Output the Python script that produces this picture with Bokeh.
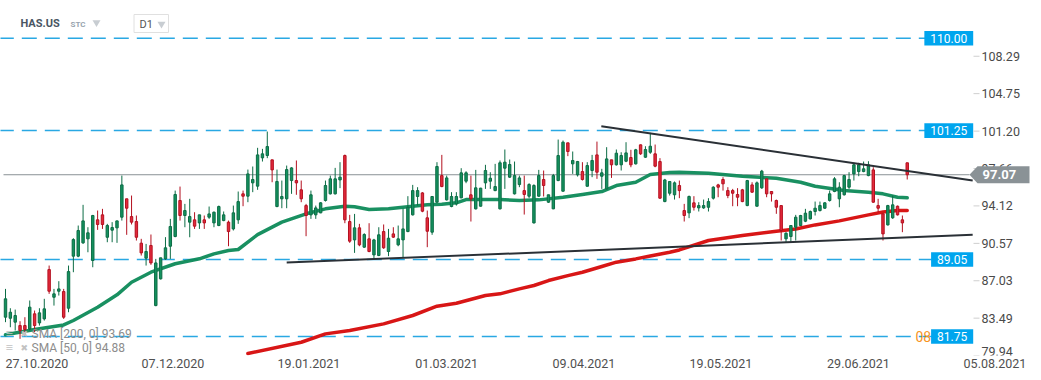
from bokeh.plotting import figure
from bokeh.models import Range1d, FixedTicker
from bokeh.core.properties import value
from bokeh.embed import file_html
from bokeh.resources import INLINE

# ---------------- data ----------------
symbol = "HAS.US"
instrument_type = "STC"
timeframe = "D1"

opens = [83.58, 83.48, 83.11, 82.79, 82.79, 82.47, 83.90, 83.04, 83.42, 88.09,
         85.47, 86.04, 86.01, 84.43, 89.36, 89.36, 90.62, 91.00, 88.95, 92.80,
         93.27, 91.15, 91.82, 92.04, 93.05, 94.79, 93.11, 92.64, 90.59, 89.17,
         90.37, 84.68, 87.21, 89.10, 90.30, 91.22, 94.63, 93.21, 92.58, 92.80,
         92.51, 92.80, 93.05, 92.51, 92.26, 92.73, 92.58, 91.94, 92.80, 95.26,
         95.04, 96.30, 95.99, 98.67, 98.89, 98.48, 94.06, 94.79, 94.79, 96.52,
         96.52, 95.64, 94.15, 93.27, 93.27, 93.46, 94.63, 95.26, 95.26, 96.58,
         98.89, 92.64, 90.90, 92.04, 90.21, 91.00, 89.48, 89.42, 91.69, 89.80,
         91.47, 90.43, 90.90, 91.69, 93.27, 95.01, 95.35, 92.99, 91.63, 94.47,
         96.99, 94.69, 94.06, 94.31, 94.88, 96.46, 95.17, 93.84, 94.09, 96.30,
         96.46, 95.57, 93.84, 97.69, 96.84, 95.26, 96.14, 95.57, 95.04, 92.51,
         95.04, 96.62, 94.47, 93.84, 96.52, 95.51, 100.09, 98.10, 97.06, 97.37,
         95.98, 97.47, 98.95, 96.93, 95.73, 98.48, 98.01, 98.01, 98.35, 98.70,
         98.10, 99.90, 98.73, 99.20, 99.05, 98.32, 94.53, 95.32, 95.17, 96.05,
         93.68, 93.46, 94.41, 93.93, 93.93, 93.99, 94.85, 96.11, 96.62, 95.57,
         95.57, 95.20, 95.64, 94.15, 96.11, 94.09, 95.83, 96.68, 95.48, 94.63,
         94.15, 91.00, 91.22, 92.10, 92.26, 92.67, 92.89, 93.59, 93.68, 93.90,
         94.63, 95.48, 94.79, 95.17, 95.89, 97.15, 97.37, 97.37, 96.99, 97.53,
         94.15, 93.36, 92.32, 92.99, 94.09, 92.80, 98.20]
highs = [86.26, 84.43, 84.30, 83.20, 83.58, 85.16, 84.21, 84.43, 85.32, 88.47,
         86.26, 86.99, 86.26, 88.47, 91.06, 92.26, 94.22, 92.10, 93.27, 93.68,
         93.84, 92.42, 92.58, 92.73, 96.99, 94.79, 95.10, 93.21, 91.00, 90.52,
         91.41, 89.10, 89.20, 91.16, 92.89, 95.57, 95.95, 94.31, 94.79, 93.52,
         93.27, 93.21, 94.06, 93.59, 94.15, 93.59, 92.73, 94.15, 95.48, 95.57,
         97.56, 97.85, 99.62, 99.52, 101.16, 98.48, 97.56, 96.52, 97.94, 97.78,
         98.42, 96.52, 94.31, 95.57, 94.15, 94.47, 96.52, 96.99, 97.72, 98.26,
         98.98, 93.27, 93.36, 92.42, 91.53, 92.48, 91.00, 92.10, 92.36, 91.94,
         92.10, 92.26, 93.84, 95.04, 96.11, 95.89, 95.42, 93.68, 95.01, 98.26,
         98.95, 96.99, 95.42, 95.42, 97.69, 97.40, 96.99, 97.53, 95.83, 98.01,
         97.31, 98.10, 98.42, 99.46, 98.51, 98.32, 96.99, 96.99, 96.27, 96.17,
         97.53, 97.47, 95.17, 97.15, 100.40, 100.31, 100.09, 99.27, 98.38, 98.26,
         98.26, 98.95, 100.21, 97.63, 99.68, 98.48, 99.46, 99.20, 100.15, 99.43,
         99.52, 99.93, 99.77, 101.04, 99.93, 98.64, 96.68, 96.43, 96.43, 96.52,
         94.31, 95.10, 95.04, 94.47, 94.72, 94.85, 95.98, 96.21, 96.84, 95.89,
         95.73, 95.80, 95.73, 96.58, 96.36, 96.43, 97.53, 96.68, 95.48, 94.72,
         94.15, 91.63, 92.26, 93.27, 93.27, 93.84, 93.68, 94.53, 94.53, 94.47,
         95.57, 96.84, 96.36, 97.06, 97.31, 98.20, 98.20, 98.32, 98.35, 97.78,
         94.79, 93.46, 94.22, 95.10, 94.15, 93.21, 98.20]
lows = [83.11, 82.63, 82.32, 81.53, 81.84, 82.32, 82.16, 82.79, 83.26, 85.79,
        84.68, 85.63, 83.42, 84.05, 87.84, 89.26, 90.52, 89.73, 88.31, 91.85,
        91.94, 90.68, 90.68, 90.62, 92.73, 91.38, 92.36, 90.84, 89.42, 88.47,
        88.54, 84.62, 87.15, 89.01, 89.10, 91.15, 92.73, 92.10, 91.15, 91.94,
        91.94, 91.94, 92.89, 92.10, 92.20, 92.67, 90.30, 91.79, 92.42, 94.09,
        94.47, 95.42, 95.64, 98.32, 98.64, 96.36, 93.99, 93.90, 93.90, 95.26,
        95.17, 94.47, 91.25, 92.89, 92.89, 93.43, 94.53, 95.20, 95.20, 95.80,
        92.48, 90.62, 89.67, 90.30, 90.15, 89.73, 89.17, 89.36, 90.05, 89.36,
        91.09, 90.30, 89.20, 91.63, 93.21, 94.15, 93.52, 90.21, 91.38, 94.41,
        95.89, 94.63, 93.99, 94.15, 94.85, 96.27, 92.64, 93.78, 94.06, 95.73,
        95.73, 95.51, 93.78, 95.73, 96.77, 95.20, 95.89, 93.30, 94.85, 92.45,
        94.98, 95.01, 94.41, 93.81, 96.46, 95.48, 98.83, 97.15, 96.90, 96.52,
        95.95, 96.84, 96.68, 95.73, 95.67, 96.77, 97.94, 97.47, 98.26, 97.78,
        98.04, 98.95, 98.67, 99.05, 97.78, 94.79, 94.47, 95.10, 94.72, 94.85,
        92.64, 92.96, 93.68, 93.59, 93.84, 93.59, 94.72, 94.94, 95.57, 94.85,
        94.09, 94.09, 94.47, 94.09, 95.35, 94.06, 95.73, 94.94, 94.53, 93.37,
        90.84, 90.68, 90.68, 90.84, 92.20, 92.58, 92.83, 93.21, 93.59, 93.84,
        94.53, 95.42, 93.99, 95.10, 95.73, 96.52, 96.93, 97.31, 96.93, 94.41,
        93.52, 90.84, 92.26, 92.89, 93.21, 91.63, 96.62]
closes = [85.32, 84.05, 83.74, 82.32, 82.41, 84.53, 82.79, 83.99, 84.37, 86.04,
          85.79, 86.26, 83.58, 87.90, 90.93, 91.79, 92.70, 91.57, 93.21, 92.36,
          92.36, 92.26, 92.07, 92.70, 96.11, 93.90, 92.58, 91.15, 89.67, 89.80,
          88.72, 88.72, 89.20, 90.15, 92.17, 95.20, 93.21, 93.68, 93.11, 92.20,
          93.27, 92.51, 93.36, 93.52, 94.06, 93.27, 91.69, 93.46, 94.53, 95.04,
          97.15, 96.62, 98.95, 99.05, 99.74, 97.53, 96.43, 95.01, 97.56, 97.72,
          96.30, 94.79, 93.21, 95.17, 93.93, 94.41, 96.05, 96.68, 96.68, 96.84,
          92.80, 90.78, 92.04, 90.43, 91.41, 89.80, 90.90, 91.38, 90.15, 91.06,
          91.16, 91.00, 91.94, 93.99, 95.57, 95.57, 93.62, 91.72, 95.01, 97.85,
          95.95, 96.77, 95.01, 95.01, 97.25, 97.25, 94.79, 95.83, 95.80, 97.47,
          96.74, 95.95, 98.20, 98.26, 98.04, 96.99, 96.77, 95.20, 96.14, 96.05,
          96.99, 96.05, 95.17, 96.99, 98.89, 100.15, 99.27, 98.42, 98.32, 96.62,
          97.94, 98.42, 97.31, 97.25, 98.57, 98.01, 99.11, 98.89, 99.14, 98.01,
          99.43, 99.05, 99.46, 99.77, 97.88, 94.85, 96.58, 96.43, 96.30, 95.57,
          93.21, 95.01, 93.99, 94.15, 94.15, 94.53, 95.89, 95.89, 96.21, 95.10,
          95.32, 94.94, 94.53, 96.52, 95.42, 96.30, 97.41, 95.26, 95.26, 93.99,
          91.79, 91.53, 92.26, 93.05, 93.21, 93.43, 93.59, 93.90, 94.15, 94.41,
          95.26, 96.68, 95.89, 96.99, 96.62, 98.01, 98.01, 97.63, 98.01, 94.47,
          93.90, 91.47, 94.15, 94.22, 93.27, 92.51, 97.07]

# moving averages (bar index, value)
sma50_bar = [0, 6, 12, 14, 19, 23, 26, 30, 35, 40, 43, 46, 48, 52, 57, 62, 66, 70,
             72, 75, 79, 82, 87, 90, 93, 95, 102, 106, 110, 115, 119, 123, 126,
             130, 133, 137, 139, 145, 152, 159, 164, 167, 173, 178, 181, 184, 186]
sma50_val = [81.91, 82.41, 82.85, 83.27, 84.53, 85.70, 86.89, 87.84, 88.64, 89.11,
             89.58, 89.89, 89.99, 91.40, 92.58, 93.37, 93.84, 94.09, 94.03, 93.78,
             93.84, 93.99, 94.22, 94.28, 94.41, 94.72, 94.72, 94.63, 94.69, 94.94,
             95.20, 95.48, 96.05, 96.36, 97.09, 97.28, 97.31, 97.22, 96.93, 96.74,
             96.36, 95.98, 95.57, 95.42, 95.26, 94.94, 94.88]
sma200_bar = [50, 61, 66, 71, 78, 84, 89, 93, 99, 102, 106, 109, 112, 116, 119, 123,
              126, 130, 133, 137, 139, 145, 152, 159, 163, 167, 172, 178, 181, 184, 186]
sma200_val = [80.14, 81.21, 82.00, 82.32, 82.95, 83.74, 84.62, 84.90, 85.63, 85.79,
              86.26, 86.58, 87.05, 87.52, 87.84, 88.38, 88.79, 89.10, 89.38, 89.73,
              89.95, 90.84, 91.31, 91.72, 91.94, 92.32, 92.70, 93.27, 93.55, 93.68, 93.69]

# trend lines (bar index, price)
upper_trend = ([122.9, 199.5], [101.67, 96.52])
lower_trend = ([58.0, 199.5], [88.75, 91.38])

levels = [110.00, 101.25, 89.05, 81.75]
last_price = 97.07
price_ticks = [108.29, 104.75, 101.20, 97.66, 94.12, 90.57, 87.03, 83.49, 79.94]
date_labels = ["27.10.2020", "07.12.2020", "19.01.2021", "01.03.2021",
               "09.04.2021", "19.05.2021", "29.06.2021", "05.08.2021"]
countdown = "08"

# ---------------- layout helpers (pixel -> data) ----------------
X0, DX = 5.0, 4.848          # px of bar 0, px per bar
Y_REF, Y_PX, KY = 110.0, 37.7, 10.56  # price 110 at y px 37.7, px per unit
W, H = 1040, 376
FRAME_BOTTOM = 355
BOTTOM = H - FRAME_BOTTOM


def bx(px):
    return (px - X0) / DX


def py(pyv):
    return Y_REF - (pyv - Y_PX) / KY


FONT = value("Roboto")

p = figure(width=W, height=H, output_backend="svg", toolbar_location=None,
           x_range=Range1d(bx(0), bx(W)),
           y_range=Range1d(py(FRAME_BOTTOM), py(0)),
           y_axis_location=None, min_border_left=0, min_border_right=0,
           min_border_top=0, min_border_bottom=BOTTOM)
p.xgrid.visible = False
p.ygrid.visible = False
p.outline_line_color = None
p.background_fill_color = "white"
p.border_fill_color = "white"

# x axis with date labels (labels start just right of each time mark)
tick_px = [3, 139, 275, 412.6, 550, 687, 824.5, 961]
label_half = 31.5
tick_pos = [round(bx(t + 2 + label_half), 3) for t in tick_px]
ax = p.xaxis[0]
ax.ticker = FixedTicker(ticks=tick_pos)
ax.major_label_overrides = {t: lab for t, lab in zip(tick_pos, date_labels)}
ax.axis_line_color = None
ax.minor_tick_line_color = None
ax.major_tick_line_color = None
ax.major_tick_in = 0
ax.major_tick_out = 0
ax.major_label_standoff = 3
ax.major_label_text_font = "Roboto"
ax.major_label_text_font_size = "12.5px"
ax.major_label_text_color = "#505050"

# horizontal levels (dashed)
p.segment(x0=[bx(-1.7)] * len(levels), y0=levels, x1=[bx(972)] * len(levels), y1=levels,
          line_color="#29a8e3", line_width=1.5, line_dash="15 8")
# last price line
p.segment(x0=[bx(3)], y0=[last_price], x1=[bx(969)], y1=[last_price],
          line_color="#8a9196", line_width=1)

# moving averages
p.line(sma200_bar, sma200_val, line_color="#d60a0a", line_width=3.5, line_alpha=0.95,
       line_join="round", line_cap="round")
p.line(sma50_bar, sma50_val, line_color="#0d8a59", line_width=3.5, line_alpha=0.95,
       line_join="round", line_cap="round")

# candles
idx = list(range(len(opens)))
up = [c >= o for o, c in zip(opens, closes)]
fill = ["#14925f" if u else "#e3293b" for u in up]
edge = ["#0c6c45" if u else "#b3101f" for u in up]
top = [max(o, c) for o, c in zip(opens, closes)]
bot = [min(o, c) for o, c in zip(opens, closes)]
bot = [b if t - b > 0.12 else t - 0.12 for t, b in zip(top, bot)]
p.segment(x0=idx, y0=highs, x1=idx, y1=lows, line_color=edge, line_width=1)
p.vbar(x=idx, width=0.5, top=top, bottom=bot, fill_color=fill, line_color=edge, line_width=1)

# trend lines
for xs, ys in (upper_trend, lower_trend):
    p.line(xs, ys, line_color="#2a3036", line_width=2)

# countdown text (behind the 81.75 box)
p.text(x=[bx(915)], y=[81.75], text=[countdown], text_font=FONT, text_font_size="14px",
       text_color="#f7941d", text_align="left", text_baseline="middle")

# level boxes
for lv in levels:
    lab = f"{lv:.2f}"
    tw = 6.74 * (len(lab) - 1) + 3.15
    p.quad(left=[bx(972.7 - tw - 12)], right=[bx(972.7)],
           bottom=[lv - 7.3 / KY], top=[lv + 7.3 / KY],
           fill_color="#00a5ee", line_color=None)
    p.text(x=[bx(966.7)], y=[lv], text=[lab], text_font=FONT, text_font_size="12px",
           text_color="white", text_align="right", text_baseline="middle")

# price axis labels and ticks
p.segment(x0=[bx(973)] * len(price_ticks), y0=price_ticks,
          x1=[bx(979)] * len(price_ticks), y1=price_ticks, line_color="#cfcfcf", line_width=1)
p.text(x=[bx(981)] * (len(price_ticks) - 1), y=price_ticks[:-1],
       text=[f"{v:.2f}" for v in price_ticks[:-1]], text_font=FONT, text_font_size="12.5px",
       text_color="#4a4a4a", text_align="left", text_baseline="middle")
p.text(x=[bx(981)], y=[price_ticks[-1]], text=[f"{price_ticks[-1]:.2f}"],
       text_font=FONT, text_font_size="12.5px", text_color="#4a4a4a",
       text_align="left", text_baseline="bottom")

# last price tag
hh = 8.5 / KY
p.patch(x=[bx(969), bx(977), bx(1029), bx(1029), bx(977)],
        y=[last_price, last_price + hh, last_price + hh, last_price - hh, last_price - hh],
        fill_color="#8a9296", line_color=None)
p.text(x=[bx(982)], y=[last_price], text=[f"{last_price:.2f}"], text_font=FONT,
       text_font_size="13px", text_font_style="bold", text_color="white",
       text_align="left", text_baseline="middle")

# header
p.text(x=[bx(20)], y=[py(23)], text=[symbol], text_font=FONT, text_font_size="11px",
       text_font_style="bold", text_color="#4a5663", text_baseline="middle")
p.text(x=[bx(70)], y=[py(24)], text=[instrument_type], text_font=FONT,
       text_font_size="8px", text_font_style="bold", text_color="#98a4ae",
       text_baseline="middle")
p.quad(left=[bx(133.5)], right=[bx(168)], top=[py(14)], bottom=[py(32)],
       fill_color="white", line_color="#e0e0e0", line_width=1)
p.text(x=[bx(139)], y=[py(24)], text=[timeframe], text_font=FONT, text_font_size="11px",
       text_color="#555555", text_baseline="middle")
p.scatter(x=[bx(96), bx(161)], y=[py(22), py(23.5)], marker="inverted_triangle",
          size=8, fill_color="#c8cdd2", line_color=None)

# indicator legend
legend_txt = [f"SMA [200, 0] {sma200_val[-1]:.2f}", f"SMA [50, 0] {sma50_val[-1]:.2f}"]
legend_y = [py(333), py(347)]
p.text(x=[bx(5)] * 2, y=legend_y, text=["\u2261", "\u2261"], text_font=FONT,
       text_font_size="13px", text_color="#c2c2c2", text_baseline="middle")
p.text(x=[bx(20)] * 2, y=legend_y, text=["\u2716", "\u2716"], text_font=value("DejaVu Sans"),
       text_font_size="9px", text_color="#c2c2c2", text_baseline="middle")
p.text(x=[bx(31)] * 2, y=legend_y, text=legend_txt, text_font=FONT, text_font_size="12px",
       text_color="#8c8c8c", text_baseline="middle")

open("out.html", "w").write(file_html(p, INLINE))
